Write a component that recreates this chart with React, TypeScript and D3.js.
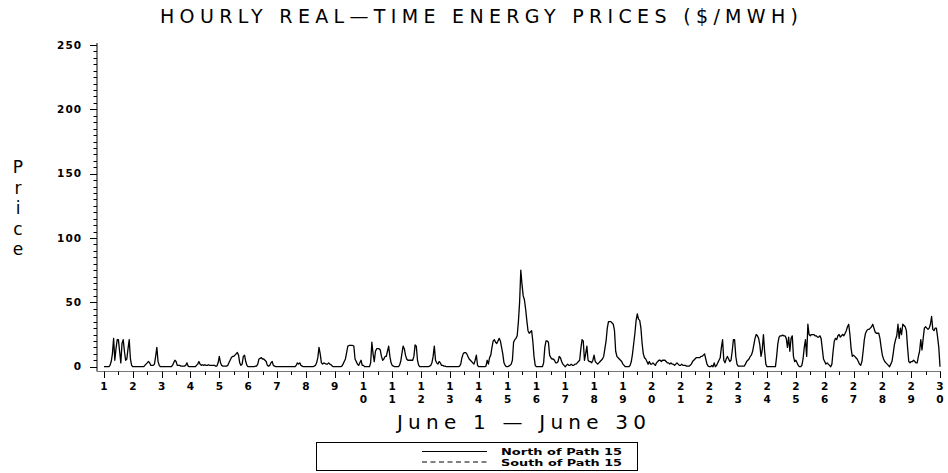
import React, { useEffect, useRef } from 'react';
import * as d3 from 'd3';

// Hourly prices North of Path 15, one row per day (hours 0..23), June 1 .. June 29
const northByDay: number[][] = [
  [0, 0, 0, 0, 0, 1, 4, 10, 22, 5, 14, 21, 21, 12, 3, 18, 21, 12, 5, 6, 14, 21, 6, 1],
  [0, 0, 0, 0, 0, 0, 0, 0, 0, 0, 1, 2, 3, 4, 3, 1, 1, 1, 2, 8, 15, 4, 1, 0],
  [0, 0, 0, 0, 0, 0, 0, 0, 0, 1, 3, 5, 4, 1, 1, 1, 0.5, 0.5, 0.5, 0.5, 1, 3, 0.5, 0],
  [0, 0, 0, 0, 0, 1, 2, 4, 2, 1, 1.5, 1, 1.5, 1, 1, 1.5, 1, 1, 1, 1, 1, 0.5, 0.5, 3],
  [8, 3, 1, 0.5, 0.5, 0.5, 0.5, 1, 3, 5, 7, 8, 8, 9, 10, 11, 9, 3, 1, 2, 8, 9, 4, 1],
  [0, 0, 0, 0, 0, 0, 0.5, 0.5, 2, 6, 6.5, 7, 6, 6, 5, 4, 1, 0.5, 1, 3, 4, 1, 0.5, 0],
  [0, 0, 0, 0, 0, 0, 0, 0, 0, 0, 0, 0, 0, 0, 0, 0, 1, 3, 2, 3, 1, 0.5, 0, 0],
  [0, 0, 0, 0, 0, 0, 0, 0.5, 1, 3, 7, 15, 10, 3, 2, 3, 2.5, 2, 2, 3, 2, 1.5, 0.5, 0],
  [0, 0, 0, 0, 0, 0, 0.5, 2, 4, 6, 11, 16, 16.5, 16.5, 16.5, 16.5, 16, 6, 4, 2, 1, 3, 5, 1],
  [1, 0, 0, 0, 0, 0, 3, 19, 10, 4, 12, 14, 14, 14, 13, 8, 5, 6, 8, 8, 12, 16, 8, 3],
  [1, 0.5, 0, 0, 0, 0, 1, 4, 10, 16, 14, 9, 6, 5, 5, 5, 5, 5, 8, 17, 16, 5, 1, 0],
  [0, 0, 0, 0, 0, 0, 0, 0.5, 1, 3, 8, 16, 5, 3, 2, 4, 3, 1, 1, 0.5, 0.5, 0, 0, 0],
  [0, 0, 0, 0, 0, 0, 0, 0, 0.5, 2, 7, 10, 11, 11, 10, 8, 6, 5, 4, 3, 2, 5, 9, 1],
  [0, 0, 0, 0, 0, 0, 0.5, 5, 2, 7, 9, 15, 20, 21, 19, 18, 20, 22, 20, 15, 10, 3, 1, 0],
  [0, 0.5, 1, 2, 5, 19, 21, 22, 24, 35, 50, 75, 64, 55, 52, 45, 36, 28, 26, 27, 28, 20, 8, 1],
  [0, 0, 0, 0, 0, 0, 3, 15, 20, 20, 19, 9, 7, 6, 6, 5, 3, 3, 4, 8, 7, 4, 2, 1],
  [0, 1, 2, 1, 1, 2, 1, 1, 2, 2, 3, 4, 5, 14, 21, 20, 5, 10, 16, 5, 4, 4, 3, 5],
  [9, 4, 3, 2, 3, 4, 5, 6, 8, 14, 20, 30, 35, 35, 35, 34, 33, 28, 12, 8, 7, 6, 5, 4],
  [2, 1, 0, 0, 0, 0, 1, 4, 10, 18, 26, 36, 41, 37, 36, 30, 18, 10, 7, 6, 4, 2, 4, 2],
  [2, 3, 2, 1, 3, 4, 5, 5, 4, 5, 5, 5, 4, 3, 3, 2, 3, 2, 2, 1, 2, 3, 2, 1],
  [1, 2, 1, 1, 1, 0.5, 0.5, 0.5, 1, 2, 4, 5, 6, 7, 7, 7, 7, 8, 8, 9, 10, 6, 2, 0.5],
  [0, 0, 1, 0, 3, 0, 1, 3, 5, 7, 15, 21, 5, 3, 6, 8, 6, 4, 5, 12, 21, 21, 8, 2],
  [0.5, 0.5, 0.5, 0.5, 0.5, 0.5, 2, 4, 5, 6, 8, 9, 12, 17, 22, 25, 24, 22, 17, 8, 13, 25, 12, 2],
  [0, 0, 0, 0, 0, 0, 0, 0, 8, 18, 23, 24, 24, 24.5, 24, 24, 22, 15, 23, 12, 22, 24, 8, 4],
  [5, 3, 1, 0, 0, 1, 6, 15, 21, 8, 33, 25, 24, 25, 25, 25, 24, 24, 23, 23, 24, 22, 14, 6],
  [4, 2, 3, 2, 1, 0, 2, 12, 20, 22, 21, 24, 25, 23, 24, 25, 24, 26, 28, 31, 33, 25, 14, 8],
  [9, 8, 7, 6, 4, 2, 1, 4, 12, 21, 26, 28, 29, 29, 30, 31, 33, 30, 27, 26, 26, 26, 22, 15],
  [9, 6, 4, 3, 2, 1, 0, 2, 4, 10, 17, 21, 24, 33, 22, 30, 25, 33, 32, 31, 28, 15, 4, 3],
  [4, 4, 5, 4, 3, 3, 8, 12, 21, 13, 22, 30, 31, 30, 29, 30, 33, 39, 29, 28, 30, 30, 23, 15],
];
const endPrice = 0; // June 30, hour 0

const days = d3.range(1, 31);
const yTicks = [0, 50, 100, 150, 200, 250];
const legendLabels = ['North of Path 15', 'South of Path 15'];

const App = () => {
  const svgRef = useRef<SVGSVGElement>(null);

  useEffect(() => {
    const width = 948;
    const height = 473;
    const font = '"DejaVu Sans", Verdana, sans-serif';

    const svg = d3.select(svgRef.current);
    svg.selectAll('*').remove();
    svg.attr('width', width).attr('height', height);

    svg.append('rect').attr('width', width).attr('height', height).attr('fill', '#fff');

    // Scales
    const x = d3.scaleLinear().domain([1, 30]).range([104, 940]);
    const y = d3.scaleLinear().domain([0, 250]).range([366.7, 45]);

    // Title
    svg
      .append('text')
      .attr('x', 160)
      .attr('y', 22.5)
      .attr('font-family', font)
      .attr('font-size', 19)
      .attr('textLength', 638)
      .attr('lengthAdjust', 'spacing')
      .text('HOURLY REAL\u2014TIME ENERGY PRICES ($/MWH)');

    // Y axis
    const axisX = 97;
    svg
      .append('line')
      .attr('x1', axisX)
      .attr('x2', axisX)
      .attr('y1', y(250) - 2)
      .attr('y2', 371.5)
      .attr('stroke', '#000')
      .attr('stroke-width', 1);

    svg
      .append('g')
      .selectAll('line')
      .data(d3.range(0, 251, 5))
      .join('line')
      .attr('x1', (d) => (d % 50 === 0 ? axisX - 7 : axisX - 3.5))
      .attr('x2', axisX)
      .attr('y1', (d) => Math.round(y(d)) + 0.5)
      .attr('y2', (d) => Math.round(y(d)) + 0.5)
      .attr('stroke', '#000')
      .attr('stroke-width', 1);

    svg
      .append('g')
      .selectAll('text')
      .data(yTicks)
      .join('text')
      .attr('x', 82)
      .attr('y', (d) => y(d))
      .attr('dy', '0.36em')
      .attr('text-anchor', 'end')
      .attr('font-family', font)
      .attr('font-weight', 'bold')
      .attr('font-size', 10.5)
      .attr('letter-spacing', 1)
      .text((d) => d);

    // Y axis title, letters stacked
    svg
      .append('g')
      .selectAll('text')
      .data('Price'.split(''))
      .join('text')
      .attr('x', 18)
      .attr('y', (d, i) => 173 + i * 20.5)
      .attr('text-anchor', 'middle')
      .attr('font-family', font)
      .attr('font-size', 17)
      .text((d) => d);

    // X axis
    const axisY = 371.5;
    svg
      .append('line')
      .attr('x1', axisX)
      .attr('x2', x(30) + 1)
      .attr('y1', axisY)
      .attr('y2', axisY)
      .attr('stroke', '#777')
      .attr('stroke-width', 1);

    svg
      .append('g')
      .selectAll('line')
      .data(d3.range(1, 30.01, 0.5))
      .join('line')
      .attr('x1', (d) => Math.round(x(d)) + 0.5)
      .attr('x2', (d) => Math.round(x(d)) + 0.5)
      .attr('y1', axisY)
      .attr('y2', (d) => (Number.isInteger(d) ? axisY + 6.5 : axisY + 3.5))
      .attr('stroke', '#000')
      .attr('stroke-width', 1);

    const dayLabel = svg
      .append('g')
      .selectAll('text')
      .data(days)
      .join('text')
      .attr('text-anchor', 'middle')
      .attr('font-family', font)
      .attr('font-weight', 'bold')
      .attr('font-size', 10.5);

    dayLabel
      .selectAll('tspan')
      .data((d) => String(d).split('').map((c, i) => ({ c, i, d })))
      .join('tspan')
      .attr('x', (t) => x(t.d))
      .attr('y', (t) => 390 + t.i * 13)
      .text((t) => t.c);

    svg
      .append('text')
      .attr('x', 397)
      .attr('y', 429)
      .attr('font-family', font)
      .attr('font-size', 20)
      .attr('textLength', 249)
      .attr('lengthAdjust', 'spacing')
      .text('June 1 \u2014 June 30');

    // Price line
    const points: [number, number][] = [];
    northByDay.forEach((row, di) => {
      row.forEach((v, h) => points.push([1 + di + h / 24, v]));
    });
    points.push([30, endPrice]);

    const line = d3
      .line<[number, number]>()
      .x((d) => x(d[0]))
      .y((d) => y(d[1]));

    svg
      .append('path')
      .datum(points)
      .attr('d', line)
      .attr('fill', 'none')
      .attr('stroke', '#000')
      .attr('stroke-width', 1.3)
      .attr('stroke-linejoin', 'round');

    // Legend
    svg
      .append('rect')
      .attr('x', 316.5)
      .attr('y', 442.5)
      .attr('width', 321)
      .attr('height', 28)
      .attr('fill', 'none')
      .attr('stroke', '#000')
      .attr('stroke-width', 1);

    const legend = svg
      .append('g')
      .selectAll('g')
      .data(legendLabels)
      .join('g')
      .attr('transform', (d, i) => `translate(0, ${451.5 + i * 10.5})`);

    legend
      .append('line')
      .attr('x1', 422)
      .attr('x2', 487)
      .attr('stroke', '#000')
      .attr('stroke-width', 1)
      .attr('stroke-dasharray', (d, i) => (i === 0 ? null : '5,3.5'));

    legend
      .append('text')
      .attr('x', 501)
      .attr('y', 3.5)
      .attr('font-family', font)
      .attr('font-weight', 'bold')
      .attr('font-size', 9)
      .attr('textLength', 121)
      .attr('lengthAdjust', 'spacingAndGlyphs')
      .text((d) => d);
  }, []);

  return <svg ref={svgRef} style={{ position: 'absolute', left: 0, top: 0 }}></svg>;
};

export default App;
